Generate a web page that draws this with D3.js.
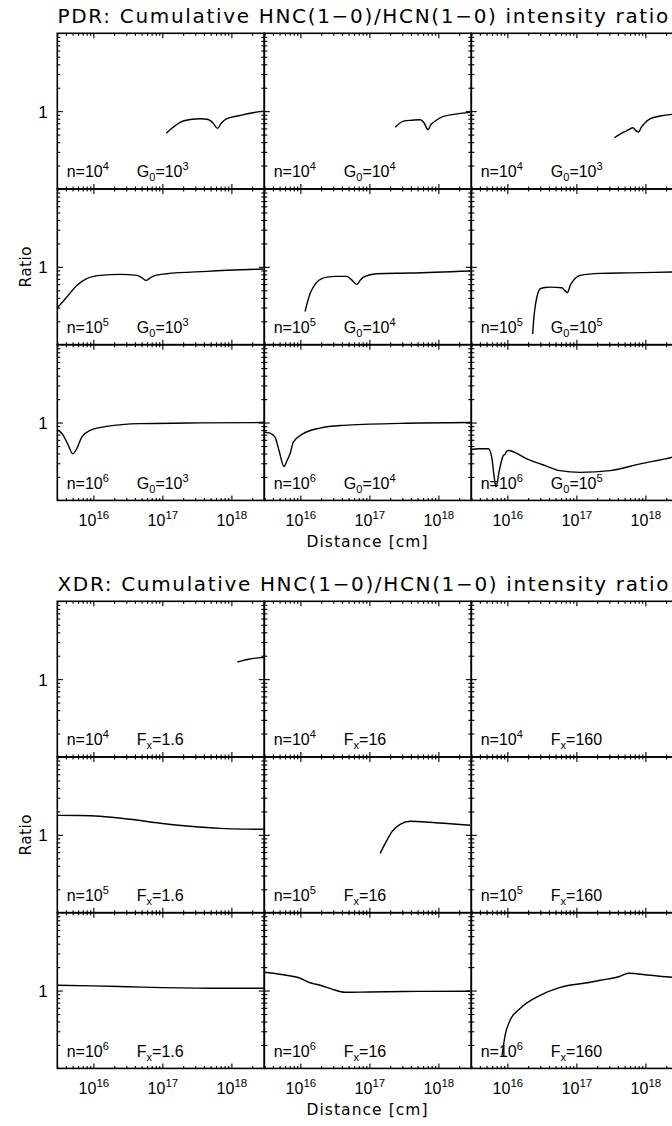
<!DOCTYPE html>
<html><head><meta charset="utf-8">
<script src="https://cdn.jsdelivr.net/npm/d3@7/dist/d3.min.js"></script>
<style>
body{margin:0;background:#fff;}
svg{display:block;}
text{font-family:"Liberation Sans",Arial,Helvetica,sans-serif;fill:#000;}
text.wide{font-family:"DejaVu Sans","Liberation Sans",sans-serif;}
</style>
</head><body>
<svg id="chart" width="672" height="1126"></svg>
<script>
// ---------- axis definitions ----------
const xDomain = [3e15, 3e18];
const yDomain = [0.1, 10];
const xMajorTicks = [1e16, 1e17, 1e18];
const xTickExponents = ["16", "17", "18"];
const yMajorTicks = [1];
const yTickLabels = ["1"];
const titles = ["PDR: Cumulative HNC(1\u22120)/HCN(1\u22120) intensity ratio",
                "XDR: Cumulative HNC(1\u22120)/HCN(1\u22120) intensity ratio"];
const xAxisTitle = "Distance [cm]";
const yAxisTitle = "Ratio";

// ---------- panel labels ----------
const densityExp = ["4", "4", "4", "5", "5", "5", "6", "6", "6"];
const pdrG0Exp = ["3", "4", "3", "3", "4", "5", "3", "4", "5"];
const xdrFx = ["1.6", "16", "160", "1.6", "16", "160", "1.6", "16", "160"];

// ---------- PDR curves (distance [cm], ratio) ----------
const pdrDist_n4_g3 = [1.135e17,1.43e17,1.81e17,2.53e17,3.53e17,4.61e17,5.46e17,6.30e17,7.13e17,8.61e17,1.34e18,1.88e18,2.83e18];
const pdrRatio_n4_g3 = [0.52,0.62,0.72,0.78,0.80,0.78,0.70,0.60,0.70,0.80,0.88,0.94,1.0];
const pdrDist_n4_g4 = [2.37e17,3.12e17,4.18e17,5.46e17,6.24e17,7.06e17,7.87e17,8.51e17,1.06e18,1.66e18,2.90e18];
const pdrRatio_n4_g4 = [0.62,0.745,0.765,0.777,0.70,0.58,0.68,0.72,0.82,0.91,0.965];
const pdrDist_n4_g3b = [3.56e17,4.82e17,5.64e17,6.59e17,7.24e17,7.96e17,8.71e17,9.61e17,1.18e18,1.64e18,2.45e18,3.0e18];
const pdrRatio_n4_g3b = [0.455,0.537,0.574,0.612,0.565,0.537,0.618,0.69,0.80,0.865,0.909,0.92];
const pdrDist_n5_g3 = [3.0e15,4.10e15,5.74e15,8.02e15,1.25e16,2.44e16,4.27e16,5.09e16,5.81e16,6.53e16,7.41e16,1.16e17,4.42e17,2.87e18];
const pdrRatio_n5_g3 = [0.297,0.407,0.577,0.705,0.777,0.80,0.777,0.721,0.67,0.711,0.761,0.817,0.875,0.937];
const pdrDist_n5_g4 = [1.17e16,1.25e16,1.38e16,1.53e16,1.73e16,2.42e16,3.30e16,4.71e16,5.43e16,6.58e16,7.35e16,8.20e16,1.28e17,3.91e17,2.90e18];
const pdrRatio_n5_g4 = [0.267,0.338,0.452,0.544,0.636,0.739,0.754,0.754,0.69,0.595,0.67,0.739,0.817,0.832,0.883];
const pdrDist_n5_g5 = [2.33e16,2.40e16,2.52e16,2.69e16,2.98e16,3.52e16,4.16e16,6.15e16,6.76e16,7.41e16,8.13e16,9.06e16,1.13e17,2.21e17,6.03e17,2.45e18,3.0e18];
const pdrRatio_n5_g5 = [0.137,0.204,0.303,0.416,0.523,0.544,0.549,0.539,0.497,0.466,0.577,0.67,0.777,0.824,0.837,0.857,0.86];
const pdrDist_n6_g3 = [3.0e15,3.66e15,4.34e15,5.01e15,5.74e15,6.78e15,8.95e15,1.56e16,4.75e16,3.53e17,2.93e18];
const pdrRatio_n6_g3 = [0.81,0.684,0.508,0.397,0.46,0.65,0.793,0.893,0.968,0.99,1.0];
const pdrDist_n6_g4 = [3.0e15,3.63e15,4.29e15,4.90e15,5.79e15,6.40e15,7.08e15,7.91e15,1.10e16,1.93e16,4.21e16,2.80e17,2.90e18];
const pdrRatio_n6_g4 = [0.754,0.732,0.65,0.438,0.272,0.325,0.397,0.56,0.719,0.849,0.92,0.976,1.0];
const pdrDist_n6_g5 = [3.0e15,3.79e15,5.30e15,5.93e15,6.40e15,6.84e15,7.64e15,8.73e15,9.25e15,9.55e15,1.03e16,1.91e16,3.52e16,5.81e16,1.13e17,3.09e17,8.41e17,2.45e18,3.0e18];
const pdrRatio_n6_g5 = [0.451,0.46,0.46,0.359,0.208,0.150,0.242,0.378,0.39,0.416,0.438,0.342,0.28,0.241,0.229,0.241,0.295,0.359,0.377];

// ---------- XDR curves (distance [cm], ratio) ----------
const xdrDist_n4_f1 = [1.22e18,1.41e18,1.78e18,2.24e18,2.82e18,3.0e18];
const xdrRatio_n4_f1 = [1.66,1.72,1.80,1.86,1.90,1.91];
const xdrDist_n4_f2 = [];
const xdrRatio_n4_f2 = [];
const xdrDist_n4_f3 = [];
const xdrRatio_n4_f3 = [];
const xdrDist_n5_f1 = [3.0e15,6.31e15,1.25e16,3.39e16,9.33e16,2.51e17,6.92e17,1.58e18,3.0e18];
const xdrRatio_n5_f1 = [1.78,1.77,1.73,1.585,1.41,1.29,1.21,1.185,1.178];
const xdrDist_n5_f2 = [1.43e17,1.70e17,2.14e17,2.79e17,3.91e17,7.59e17,1.48e18,2.90e18];
const xdrRatio_n5_f2 = [0.577,0.777,1.11,1.366,1.493,1.45,1.387,1.326];
const xdrDist_n5_f3 = [];
const xdrRatio_n5_f3 = [];
const xdrDist_n6_f1 = [3.0e15,1e16,3.16e16,1e17,3.16e17,1e18,3.0e18];
const xdrRatio_n6_f1 = [1.17,1.15,1.12,1.09,1.075,1.07,1.07];
const xdrDist_n6_f2 = [3.0e15,5.0e15,9.9e15,1.38e16,1.6e16,1.93e16,2.8e16,4.45e16,1e17,5e17,2.9e18];
const xdrRatio_n6_f2 = [1.72,1.62,1.44,1.26,1.22,1.17,1.05,0.95,0.96,0.975,0.98];
const xdrDist_n6_f3 = [8.38e15,9.25e15,1.09e16,1.53e16,2.98e16,5.81e16,1.58e17,2.21e17,4.32e17,5.64e17,1.18e18,2.45e18,3.0e18];
const xdrRatio_n6_f3 = [0.146,0.264,0.412,0.589,0.867,1.1,1.276,1.354,1.525,1.667,1.57,1.48,1.47];

const pdrCurves = [
  [pdrDist_n4_g3, pdrRatio_n4_g3], [pdrDist_n4_g4, pdrRatio_n4_g4], [pdrDist_n4_g3b, pdrRatio_n4_g3b],
  [pdrDist_n5_g3, pdrRatio_n5_g3], [pdrDist_n5_g4, pdrRatio_n5_g4], [pdrDist_n5_g5, pdrRatio_n5_g5],
  [pdrDist_n6_g3, pdrRatio_n6_g3], [pdrDist_n6_g4, pdrRatio_n6_g4], [pdrDist_n6_g5, pdrRatio_n6_g5]];
const xdrCurves = [
  [xdrDist_n4_f1, xdrRatio_n4_f1], [xdrDist_n4_f2, xdrRatio_n4_f2], [xdrDist_n4_f3, xdrRatio_n4_f3],
  [xdrDist_n5_f1, xdrRatio_n5_f1], [xdrDist_n5_f2, xdrRatio_n5_f2], [xdrDist_n5_f3, xdrRatio_n5_f3],
  [xdrDist_n6_f1, xdrRatio_n6_f1], [xdrDist_n6_f2, xdrRatio_n6_f2], [xdrDist_n6_f3, xdrRatio_n6_f3]];

// ---------- layout ----------
const L = {left: 57.3, colW: 207, rowH: 155.7, gridTops: [33.3, 601.3]};
const svg = d3.select("#chart");

const x = d3.scaleLog().domain(xDomain).range([0, L.colW]);
const y = d3.scaleLog().domain(yDomain).range([L.rowH, 0]);

function minorTicks(domain) {
  const out = [];
  const lo = Math.floor(Math.log10(domain[0])), hi = Math.ceil(Math.log10(domain[1]));
  for (let e = lo; e <= hi; e++) for (let m = 2; m <= 9; m++) {
    const v = m * Math.pow(10, e);
    if (v >= domain[0] && v <= domain[1]) out.push(v);
  }
  return out;
}
const xMinor = minorTicks(xDomain);
const yMinor = minorTicks(yDomain);

const line = d3.line().x(d => x(d[0])).y(d => y(d[1])).curve(d3.curveMonotoneX);

function styleAxis(g) {
  g.select(".domain").remove();
  g.selectAll(".tick line").attr("stroke", "#000").attr("stroke-width", 1.1);
  g.attr("font-family", null).attr("font-size", null);
}
// spread glyphs so a text spans the given width (the original uses a wide vector font)
function fitWidth(sel, target) {
  const node = sel.node();
  const n = sel.text().length;
  const w = node.getComputedTextLength();
  if (n > 1) sel.attr("letter-spacing", ((target - w) / (n - 1)).toFixed(2));
}

function drawGrid(gi, curves, kind) {
  const top = L.gridTops[gi];
  // title
  const tt = svg.append("text").attr("class", "wide")
    .attr("x", 57.5).attr("y", top - 10)
    .attr("text-anchor", "start").attr("font-size", 20)
    .text(titles[gi]);
  fitWidth(tt, 611);
  // y title
  const yt = svg.append("text").attr("class", "wide")
    .attr("transform", `translate(31,${top + 1.5 * L.rowH}) rotate(-90)`)
    .attr("text-anchor", "middle").attr("font-size", 15.5).text(yAxisTitle);
  fitWidth(yt, 41);
  // x title
  const xt = svg.append("text").attr("class", "wide")
    .attr("x", 306.5).attr("y", top + 3 * L.rowH + 46.5)
    .attr("text-anchor", "start").attr("font-size", 15.5).text(xAxisTitle);
  fitWidth(xt, 121);

  for (let i = 0; i < 9; i++) {
    const r = Math.floor(i / 3), c = i % 3;
    const gx = L.left + c * L.colW, gy = top + r * L.rowH;
    const g = svg.append("g").attr("transform", `translate(${gx},${gy})`);
    const clipId = `clip-${gi}-${i}`;
    g.append("clipPath").attr("id", clipId).append("rect")
      .attr("x", 0).attr("y", 0).attr("width", L.colW).attr("height", L.rowH);

    // curve
    const [dist, ratio] = curves[i];
    if (dist.length) {
      g.append("path").datum(dist.map((d, k) => [d, ratio[k]]))
        .attr("clip-path", `url(#${clipId})`)
        .attr("fill", "none").attr("stroke", "#000").attr("stroke-width", 1.4)
        .attr("stroke-linejoin", "round").attr("d", line);
    }

    // ticks: bottom & top (inward)
    const bMaj = g.append("g").attr("transform", `translate(0,${L.rowH})`)
      .call(d3.axisBottom(x).tickValues(xMajorTicks).tickSize(-5).tickPadding(10).tickFormat(() => ""));
    styleAxis(bMaj);
    const bMin = g.append("g").attr("transform", `translate(0,${L.rowH})`)
      .call(d3.axisBottom(x).tickValues(xMinor).tickSize(-2.5).tickFormat(() => ""));
    styleAxis(bMin); bMin.selectAll("text").remove();
    const tMaj = g.append("g").call(d3.axisTop(x).tickValues(xMajorTicks).tickSize(-5).tickFormat(() => ""));
    styleAxis(tMaj); tMaj.selectAll("text").remove();
    const tMin = g.append("g").call(d3.axisTop(x).tickValues(xMinor).tickSize(-2.5).tickFormat(() => ""));
    styleAxis(tMin); tMin.selectAll("text").remove();
    // ticks: left & right (inward)
    const lMaj = g.append("g").call(d3.axisLeft(y).tickValues(yMajorTicks).tickSize(-5.5).tickPadding(10)
      .tickFormat((d, k) => yTickLabels[k]));
    styleAxis(lMaj);
    const lMin = g.append("g").call(d3.axisLeft(y).tickValues(yMinor).tickSize(-3).tickFormat(() => ""));
    styleAxis(lMin); lMin.selectAll("text").remove();
    const rMaj = g.append("g").attr("transform", `translate(${L.colW},0)`)
      .call(d3.axisRight(y).tickValues(yMajorTicks).tickSize(-5.5).tickFormat(() => ""));
    styleAxis(rMaj); rMaj.selectAll("text").remove();
    const rMin = g.append("g").attr("transform", `translate(${L.colW},0)`)
      .call(d3.axisRight(y).tickValues(yMinor).tickSize(-3).tickFormat(() => ""));
    styleAxis(rMin); rMin.selectAll("text").remove();

    // y tick labels only on first column
    if (c === 0) {
      lMaj.selectAll("text").attr("font-size", 17).attr("dy", "0.36em").attr("x", -9.5);
    } else lMaj.selectAll("text").remove();

    // x tick labels only on bottom row
    if (r === 2) {
      bMaj.selectAll(".tick text").each(function(d, k) {
        const t = d3.select(this).text(null).attr("font-size", 16).attr("dy", null).attr("y", 25.5);
        t.append("tspan").text("10");
        t.append("tspan").attr("font-size", 11.5).attr("dy", -7).text(xTickExponents[k]);
      });
    } else bMaj.selectAll("text").remove();

    // frame
    g.append("rect").attr("x", 0).attr("y", 0).attr("width", L.colW).attr("height", L.rowH)
      .attr("fill", "none").attr("stroke", "#000").attr("stroke-width", 1.6);

    // panel label
    const ly = L.rowH - 11.6;
    const t1 = g.append("text").attr("x", 9.4).attr("y", ly).attr("font-size", 16);
    t1.append("tspan").text("n=10");
    t1.append("tspan").attr("font-size", 11).attr("dy", -7).text(densityExp[i]);
    const t2 = g.append("text").attr("x", 79.5).attr("y", ly).attr("font-size", 16);
    if (kind === "pdr") {
      t2.append("tspan").text("G");
      t2.append("tspan").attr("font-size", 11).attr("dy", 4).text("0");
      t2.append("tspan").attr("dy", -4).text("=10");
      t2.append("tspan").attr("font-size", 11).attr("dy", -7).text(pdrG0Exp[i]);
    } else {
      t2.append("tspan").text("F");
      t2.append("tspan").attr("font-size", 11).attr("dy", 4).text("x");
      t2.append("tspan").attr("dy", -4).text("=" + xdrFx[i]);
    }
  }
}

drawGrid(0, pdrCurves, "pdr");
drawGrid(1, xdrCurves, "xdr");
</script>
</body></html>
